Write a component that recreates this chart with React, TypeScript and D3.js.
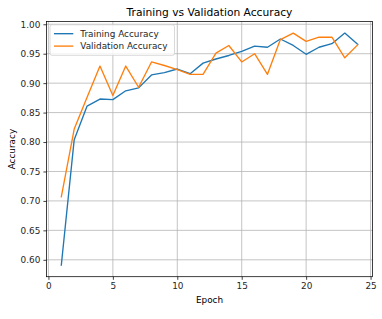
import * as d3 from "d3";
import { useEffect, useRef } from "react";

const epochs = [1, 2, 3, 4, 5, 6, 7, 8, 9, 10, 11, 12, 13, 14, 15, 16, 17, 18, 19, 20, 21, 22, 23, 24];
const trainAcc = [
  0.591, 0.804, 0.861, 0.873, 0.872, 0.887, 0.892, 0.914, 0.918, 0.924, 0.916, 0.934,
  0.941, 0.947, 0.954, 0.963, 0.961, 0.975, 0.964, 0.949, 0.961, 0.967, 0.985, 0.966,
];
const valAcc = [
  0.707, 0.822, 0.876, 0.929, 0.879, 0.929, 0.893, 0.936, 0.930, 0.923, 0.915, 0.915,
  0.951, 0.964, 0.936, 0.950, 0.915, 0.974, 0.985, 0.971, 0.978, 0.978, 0.943, 0.965,
];
const xTicks = [0, 5, 10, 15, 20, 25];
const yTicks = [0.6, 0.65, 0.7, 0.75, 0.8, 0.85, 0.9, 0.95, 1.0];
const seriesNames = ["Training Accuracy", "Validation Accuracy"];
const colors = ["#1f77b4", "#ff7f0e"];

const width = 382;
const height = 319;
const left = 46.5;
const right = 372.5;
const top = 21.5;
const bottom = 276.7;
const fs = 8.9; // 10pt at this figure's dpi

export default function App() {
  const ref = useRef<SVGSVGElement>(null);

  useEffect(() => {
    const svg = d3.select(ref.current);
    svg.selectAll("*").remove();
    const font = "DejaVu Sans, sans-serif";

    // matplotlib-style 5% margins
    const xPad = (d3.max(epochs)! - d3.min(epochs)!) * 0.05;
    const all = trainAcc.concat(valAcc);
    const yMin = d3.min(all)!;
    const yMax = d3.max(all)!;
    const yPad = (yMax - yMin) * 0.05;

    const x = d3.scaleLinear([d3.min(epochs)! - xPad, d3.max(epochs)! + xPad], [left, right]);
    const y = d3.scaleLinear([yMin - yPad, yMax + yPad], [bottom, top]);

    svg.append("rect").attr("width", width).attr("height", height).attr("fill", "white");

    // grid
    const grid = svg.append("g").attr("stroke", "#b0b0b0").attr("stroke-width", 0.75);
    grid
      .selectAll("line.gx")
      .data(xTicks)
      .enter()
      .append("line")
      .attr("x1", (d) => x(d))
      .attr("x2", (d) => x(d))
      .attr("y1", top)
      .attr("y2", bottom);
    grid
      .selectAll("line.gy")
      .data(yTicks)
      .enter()
      .append("line")
      .attr("x1", left)
      .attr("x2", right)
      .attr("y1", (d) => y(d))
      .attr("y2", (d) => y(d));

    // lines
    const line = d3.line<number>((_, i) => x(epochs[i]), (d) => y(d));
    [trainAcc, valAcc].forEach((s, i) => {
      svg
        .append("path")
        .attr("d", line(s))
        .attr("fill", "none")
        .attr("stroke", colors[i])
        .attr("stroke-width", 1.35)
        .attr("stroke-linejoin", "round")
        .attr("stroke-linecap", "square");
    });

    // spines
    svg
      .append("rect")
      .attr("x", left)
      .attr("y", top)
      .attr("width", right - left)
      .attr("height", bottom - top)
      .attr("fill", "none")
      .attr("stroke", "black")
      .attr("stroke-width", 0.75);

    // axes
    const xAxis = svg
      .append("g")
      .attr("transform", `translate(0, ${bottom})`)
      .call(d3.axisBottom(x).tickValues(xTicks).tickSize(3.1).tickPadding(3.1).tickFormat(d3.format("d")));
    const yAxis = svg
      .append("g")
      .attr("transform", `translate(${left}, 0)`)
      .call(d3.axisLeft(y).tickValues(yTicks).tickSize(3.1).tickPadding(3.1).tickFormat(d3.format(".2f")));
    [xAxis, yAxis].forEach((a) => {
      a.select(".domain").remove();
      a.selectAll("line").attr("stroke", "black").attr("stroke-width", 0.75);
      a.selectAll("text").attr("font-family", font).attr("font-size", fs).attr("fill", "#262626");
    });

    // labels
    svg
      .append("text")
      .attr("x", (left + right) / 2)
      .attr("y", 15.5)
      .attr("text-anchor", "middle")
      .attr("font-family", font)
      .attr("font-size", 10.7)
      .text("Training vs Validation Accuracy");
    svg
      .append("text")
      .attr("x", (left + right) / 2)
      .attr("y", 302.5)
      .attr("text-anchor", "middle")
      .attr("font-family", font)
      .attr("font-size", fs)
      .text("Epoch");
    svg
      .append("text")
      .attr("transform", `translate(14.5, ${(top + bottom) / 2}) rotate(-90)`)
      .attr("text-anchor", "middle")
      .attr("font-family", font)
      .attr("font-size", fs)
      .text("Accuracy");

    // legend
    const lg = svg.append("g").attr("transform", `translate(50, 24.8)`);
    lg.append("rect")
      .attr("width", 124.5)
      .attr("height", 30.5)
      .attr("rx", 2)
      .attr("fill", "white")
      .attr("fill-opacity", 0.8)
      .attr("stroke", "#cccccc")
      .attr("stroke-width", 0.75);
    seriesNames.forEach((name, i) => {
      const yy = 8.9 + i * 12.4;
      lg.append("line")
        .attr("x1", 4)
        .attr("x2", 23.3)
        .attr("y1", yy)
        .attr("y2", yy)
        .attr("stroke", colors[i])
        .attr("stroke-width", 1.35);
      lg.append("text")
        .attr("x", 30.3)
        .attr("y", yy + 3.2)
        .attr("font-family", font)
        .attr("font-size", fs)
        .attr("fill", "#262626")
        .text(name);
    });
  }, []);

  return (
    <svg
      ref={ref}
      width={width}
      height={height}
      style={{ position: "absolute", left: 0, top: 0, display: "block" }}
    />
  );
}
